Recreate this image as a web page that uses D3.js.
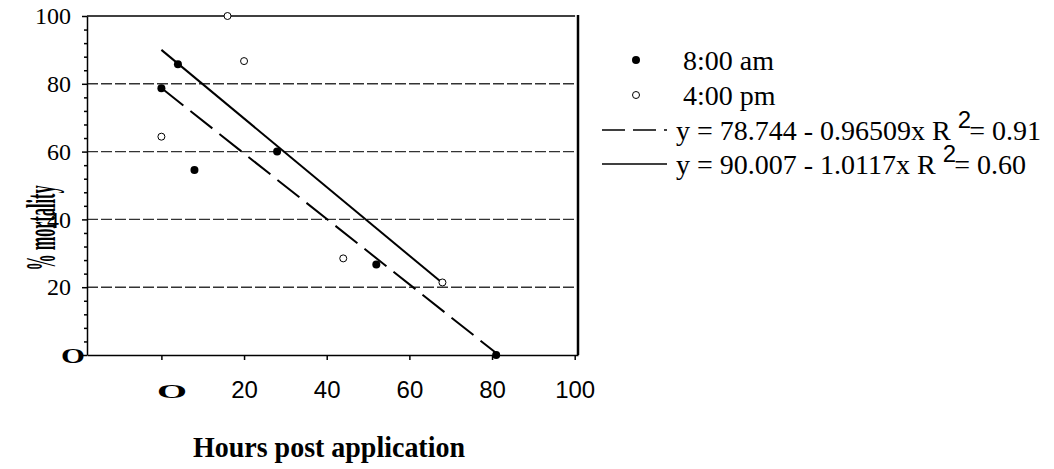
<!DOCTYPE html>
<html lang="en">
<head>
<meta charset="UTF-8">
<title>Mortality</title>
<style>
  body { margin: 0; background: #fff; }
  svg { display: block; }
</style>
</head>
<body>
<script src="https://d3js.org/d3.v7.min.js"></script>
<script>
// data
const amHours = [0, 4, 8, 28, 52, 81];
const amMortality = [78.7, 85.8, 54.6, 60, 26.7, 0];
const pmHours = [0, 16, 20, 44, 68];
const pmMortality = [64.4, 100, 86.7, 28.5, 21.4];
const fitIntercepts = [78.744, 90.007];
const fitSlopes = [-0.96509, -1.0117];
const fitEquations = ["y = 78.744 - 0.96509x R ", "y = 90.007 - 1.0117x R "];
const fitR2 = ["= 0.91", "= 0.60"];
const seriesNames = ["8:00 am", "4:00 pm"];
const xTicks = [0, 20, 40, 60, 80, 100];
const yTicks = [0, 20, 40, 60, 80, 100];
const yMinor = d3.range(0, 101, 4).filter(d => d % 20 !== 0);
const gridValues = [20, 40, 60, 80];

const SERIF = "'Liberation Serif', 'DejaVu Serif', serif";
const SANS = "'Liberation Sans', Arial, sans-serif";

const w = 1054, h = 469;
const svg = d3.select("body").append("svg").attr("width", w).attr("height", h);

const xScale = d3.scaleLinear().domain([-18, 100.8]).range([87, 578]);
const yScale = d3.scaleLinear().domain([0, 100]).range([355, 16]);

// dashed horizontal grid
svg.selectAll(".grid").data(gridValues).enter().append("line")
  .attr("class", "grid")
  .attr("x1", xScale(-18)).attr("x2", xScale(100.8))
  .attr("y1", d => yScale(d)).attr("y2", d => yScale(d))
  .attr("stroke", "#333").attr("stroke-width", 1.4)
  .attr("stroke-dasharray", "11,3");

// frame top and right
svg.append("line").attr("x1", xScale(-18)).attr("x2", xScale(100.1))
  .attr("y1", yScale(100)).attr("y2", yScale(100))
  .attr("stroke", "#000").attr("stroke-width", 1.5);
svg.append("line").attr("x1", xScale(100.8)).attr("x2", xScale(100.8))
  .attr("y1", yScale(100) - 1).attr("y2", yScale(0))
  .attr("stroke", "#000").attr("stroke-width", 2.5);

// y axis
const yAxis = svg.append("g").attr("transform", "translate(" + xScale(-18) + ",0)")
  .call(d3.axisLeft(yScale).tickValues(yTicks).tickSize(5).tickSizeOuter(0).tickPadding(11)
    .tickFormat(d => d === 0 ? "O" : d));
yAxis.attr("font-family", SERIF).attr("font-size", 24);
yAxis.append("g")
  .call(d3.axisLeft(yScale).tickValues(yMinor).tickSize(3).tickFormat(""))
  .select(".domain").remove();
yAxis.selectAll("path, line").attr("stroke", "#000").attr("stroke-width", 1.5);
yAxis.selectAll("text").attr("font-family", SERIF).attr("font-size", 24).attr("fill", "#000");
yAxis.selectAll(".tick text").filter(d => d === 0)
  .attr("font-weight", "bold").attr("font-size", 22)
  .attr("x", -2).attr("textLength", 24).attr("lengthAdjust", "spacingAndGlyphs");

// x axis
const xAxis = svg.append("g").attr("transform", "translate(0," + yScale(0) + ")")
  .call(d3.axisBottom(xScale).tickValues(xTicks).tickSize(5).tickSizeOuter(0).tickPadding(21)
    .tickFormat(d => d === 0 ? "O" : d));
xAxis.attr("font-family", SANS).attr("font-size", 24);
xAxis.selectAll("path, line").attr("stroke", "#000").attr("stroke-width", 1.5);
xAxis.selectAll("text").attr("font-family", SANS).attr("font-size", 24).attr("fill", "#000");
xAxis.selectAll(".tick text").filter(d => d === 0)
  .attr("font-family", SERIF).attr("font-weight", "bold").attr("font-size", 19)
  .attr("x", 10).attr("dy", "0.9em")
  .attr("textLength", 30).attr("lengthAdjust", "spacingAndGlyphs");

// regression lines
const fitEnds = [d3.max(amHours), d3.max(pmHours)];
const line = d3.line().x(d => xScale(d[0])).y(d => yScale(d[1]));
fitIntercepts.forEach((a, i) => {
  const pts = [0, fitEnds[i]].map(x => [x, a + fitSlopes[i] * x]);
  svg.append("path").attr("d", line(pts))
    .attr("fill", "none").attr("stroke", "#000").attr("stroke-width", 2)
    .attr("stroke-dasharray", i === 0 ? "28,9" : null);
});

// points
svg.selectAll(".am").data(amHours).enter().append("circle")
  .attr("cx", d => xScale(d)).attr("cy", (d, i) => yScale(amMortality[i]))
  .attr("r", 4).attr("fill", "#000");
svg.selectAll(".pm").data(pmHours).enter().append("circle")
  .attr("cx", d => xScale(d)).attr("cy", (d, i) => yScale(pmMortality[i]))
  .attr("r", 3.5).attr("fill", "#fff").attr("stroke", "#000").attr("stroke-width", 1);

// legend
const legRows = [60, 95, 130, 164];
const legend = svg.append("g").attr("font-family", SERIF).attr("font-size", 28);
legend.append("circle").attr("cx", 636).attr("cy", legRows[0]).attr("r", 4).attr("fill", "#000");
legend.append("circle").attr("cx", 636).attr("cy", legRows[1]).attr("r", 3.5)
  .attr("fill", "#fff").attr("stroke", "#000");
seriesNames.forEach((s, i) => {
  legend.append("text").attr("font-family", SERIF).attr("font-size", 28)
    .attr("x", 683).attr("y", legRows[i] + 10).text(s);
});
fitEquations.forEach((s, i) => {
  const y = legRows[i + 2];
  legend.append("line").attr("x1", 602).attr("x2", 667).attr("y1", y).attr("y2", y)
    .attr("stroke", "#000").attr("stroke-width", 1.5)
    .attr("stroke-dasharray", i === 0 ? "23,8" : null);
  const t = legend.append("text").attr("font-family", SERIF).attr("font-size", 28)
    .attr("x", 676).attr("y", y + 10);
  t.append("tspan").text(s);
  t.append("tspan").attr("font-family", SANS).attr("font-size", 24).attr("dy", -12).text("2");
  t.append("tspan").attr("dy", 12).attr("dx", -2).text(fitR2[i]);
});

// axis titles
svg.append("text").attr("font-family", SERIF).attr("font-weight", "bold").attr("font-size", 29)
  .attr("text-anchor", "middle").attr("x", 329).attr("y", 457)
  .attr("textLength", 272).attr("lengthAdjust", "spacingAndGlyphs")
  .text("Hours post application");
svg.append("text").attr("font-family", SERIF).attr("font-weight", "bold").attr("font-size", 42)
  .attr("text-anchor", "middle")
  .attr("transform", "translate(55,228) rotate(-90)")
  .attr("textLength", 85).attr("lengthAdjust", "spacingAndGlyphs")
  .text("% mortality");
</script>
</body>
</html>
